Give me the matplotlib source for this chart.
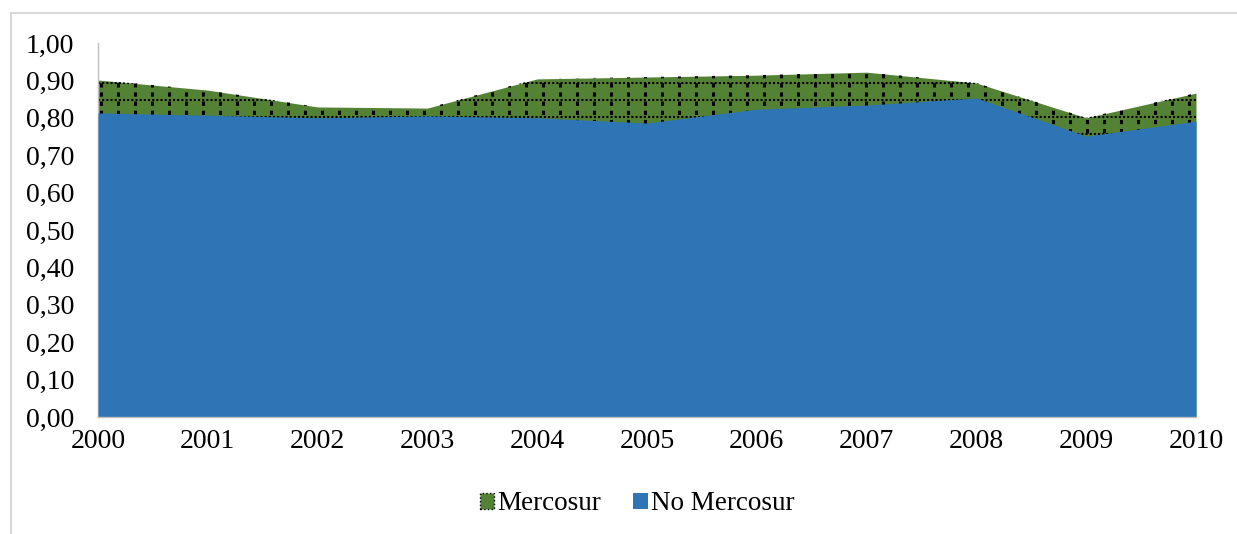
import matplotlib.pyplot as plt
from matplotlib.patches import Rectangle

years = [2000, 2001, 2002, 2003, 2004, 2005, 2006, 2007, 2008, 2009, 2010]
mercosur = [0.901, 0.874, 0.829, 0.826, 0.904, 0.909, 0.914, 0.922, 0.893, 0.800, 0.866]
no_mercosur = [0.813, 0.807, 0.800, 0.805, 0.800, 0.786, 0.823, 0.834, 0.853, 0.751, 0.791]

verde = '#548235'
azul = '#2E75B6'

plt.rcParams['font.family'] = ['Liberation Serif', 'DejaVu Serif']

fig = plt.figure(figsize=(12.37, 5.34), dpi=100)
W, H = 1237, 534
ax = fig.add_axes([98 / W, 1 - 417 / H, (1196 - 98) / W, (417 - 43) / H])

# area Mercosur (atras) con trama punteada
area_m = ax.fill_between(years, 0, mercosur, color=verde, linewidth=0, zorder=1)
trama = []
y0 = 0.893
while y0 > 0:
    ln = ax.plot([years[0], years[-1]], [y0, y0], color='black', lw=1.5,
                 ls=(0, (1.0, 1.0)), zorder=2)[0]
    trama.append(ln)
    y0 -= 17 / 374
paso = (years[-1] - years[0]) * 17 / 1098
x0 = years[0] + 0.03
while x0 < years[-1]:
    ln = ax.plot([x0, x0], [0, 1], color='black', lw=2.2,
                 ls=(0, (1.4, 1.6)), zorder=2)[0]
    trama.append(ln)
    x0 += paso
for ln in trama:
    ln.set_clip_path(area_m.get_paths()[0], ax.transData)

# area No Mercosur (delante)
ax.fill_between(years, 0, no_mercosur, color=azul, linewidth=0, zorder=3)

ax.set_xlim(years[0], years[-1])
ax.set_ylim(0, 1.0)
ax.set_xticks(years)
ax.set_xticklabels([str(a) for a in years])
ax.set_yticks([i / 10 for i in range(11)])
ax.set_yticklabels([f'{i / 10:.2f}'.replace('.', ',') for i in range(11)])
ax.tick_params(axis='both', length=0, labelsize=20)
ax.tick_params(axis='y', pad=17)
ax.tick_params(axis='x', pad=9)
for s in ['top', 'right']:
    ax.spines[s].set_visible(False)
for s in ['left', 'bottom']:
    ax.spines[s].set_color('#BFBFBF')
    ax.spines[s].set_linewidth(1)
ax.spines['bottom'].set_zorder(4)

# marco exterior del grafico
fig.patches.append(Rectangle((11 / W, -0.1), 1.2, 1 - 13 / H + 0.1,
                             transform=fig.transFigure, fill=False,
                             edgecolor='#D9D9D9', linewidth=1.5))

h_m = Rectangle((0, 0), 1, 1, facecolor=verde, edgecolor='black',
                linestyle=':', linewidth=1)
h_n = Rectangle((0, 0), 1, 1, facecolor=azul, edgecolor='none')
fig.legend([h_m, h_n], ['Mercosur', 'No Mercosur'], loc='center',
           bbox_to_anchor=(637 / W, 1 - 504 / H), ncol=2, frameon=False,
           fontsize=19.5, handlelength=0.55, handleheight=0.55,
           handletextpad=0.1, columnspacing=1.2)

fig.savefig('out.png', dpi=100)
